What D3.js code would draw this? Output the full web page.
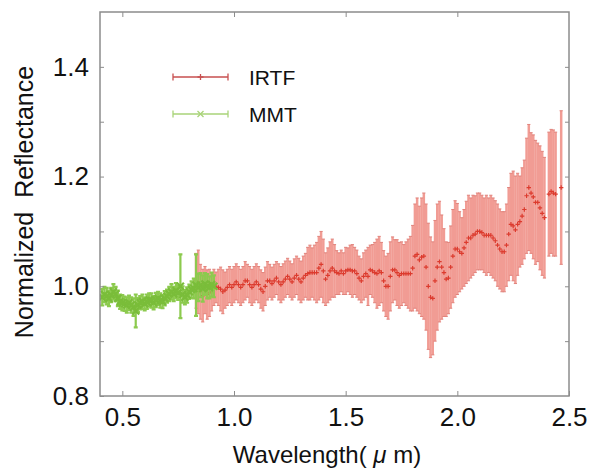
<!DOCTYPE html>
<html>
<head>
<meta charset="utf-8">
<script src="https://cdn.jsdelivr.net/npm/d3@7"></script>
<style>
  body { margin: 0; background: #fff; }
</style>
</head>
<body>
<div id="chart"></div>
<script>
// MMT (visible) spectrum
const mmtWavelength = [
  0.41, 0.42, 0.43, 0.44, 0.45, 0.46, 0.47, 0.48, 0.49, 0.50,
  0.51, 0.52, 0.53, 0.54, 0.55, 0.56, 0.57, 0.58, 0.59, 0.60,
  0.61, 0.62, 0.63, 0.64, 0.65, 0.66, 0.67, 0.68, 0.69, 0.70,
  0.71, 0.72, 0.73, 0.74, 0.75, 0.76, 0.77, 0.78, 0.79, 0.80,
  0.81, 0.82, 0.83, 0.84, 0.85, 0.86, 0.87, 0.88, 0.89, 0.90, 0.91
];
const mmtReflectance = [
  0.980, 0.985, 0.982, 0.978, 0.984, 0.990, 0.986, 0.978, 0.972, 0.970,
  0.968, 0.966, 0.970, 0.966, 0.962, 0.955, 0.966, 0.970, 0.972, 0.968,
  0.972, 0.975, 0.974, 0.970, 0.975, 0.978, 0.974, 0.972, 0.978, 0.982,
  0.986, 0.990, 0.986, 0.992, 0.988, 1.000, 0.985, 0.980, 0.984, 0.990,
  0.994, 0.996, 1.002, 0.998, 1.002, 0.996, 1.004, 1.000, 0.998, 1.003, 1.000
];
const mmtError = [
  0.015, 0.014, 0.015, 0.014, 0.013, 0.014, 0.013, 0.014, 0.013, 0.014,
  0.013, 0.014, 0.013, 0.014, 0.016, 0.030, 0.013, 0.012, 0.013, 0.012,
  0.013, 0.012, 0.013, 0.012, 0.013, 0.012, 0.013, 0.012, 0.013, 0.012,
  0.013, 0.014, 0.013, 0.014, 0.013, 0.058, 0.015, 0.013, 0.014, 0.013,
  0.015, 0.018, 0.056, 0.025, 0.022, 0.024, 0.020, 0.022, 0.020, 0.022, 0.020
];

// IRTF (near-infrared) spectrum
const irtfWavelength = [
  0.83, 0.84, 0.85, 0.86, 0.87, 0.88, 0.89, 0.90, 0.91, 0.92,
  0.93, 0.94, 0.95, 0.96, 0.97, 0.98, 0.99, 1.00, 1.01, 1.02,
  1.03, 1.04, 1.05, 1.06, 1.07, 1.08, 1.09, 1.10, 1.11, 1.12,
  1.13, 1.14, 1.15, 1.16, 1.17, 1.18, 1.19, 1.20, 1.21, 1.22,
  1.23, 1.24, 1.25, 1.26, 1.27, 1.28, 1.29, 1.30, 1.31, 1.32,
  1.33, 1.34, 1.35, 1.36, 1.37, 1.38, 1.39, 1.40, 1.41, 1.42,
  1.43, 1.44, 1.45, 1.46, 1.47, 1.48, 1.49, 1.50, 1.51, 1.52,
  1.53, 1.54, 1.55, 1.56, 1.57, 1.58, 1.59, 1.60, 1.61, 1.62,
  1.63, 1.64, 1.65, 1.66, 1.67, 1.68, 1.69, 1.70, 1.71, 1.72,
  1.73, 1.74, 1.75, 1.76, 1.77, 1.78, 1.79, 1.80, 1.81, 1.82,
  1.83, 1.84, 1.85, 1.86, 1.87, 1.88, 1.89, 1.90, 1.91, 1.92,
  1.93, 1.94, 1.95, 1.96, 1.97, 1.98, 1.99, 2.00, 2.01, 2.02,
  2.03, 2.04, 2.05, 2.06, 2.07, 2.08, 2.09, 2.10, 2.11, 2.12,
  2.13, 2.14, 2.15, 2.16, 2.17, 2.18, 2.19, 2.20, 2.21, 2.22,
  2.23, 2.24, 2.25, 2.26, 2.27, 2.28, 2.29, 2.30, 2.31, 2.32,
  2.33, 2.34, 2.35, 2.36, 2.37, 2.38, 2.39, 2.41, 2.42, 2.43,
  2.44, 2.465
];
const irtfReflectance = [
  1.010, 1.008, 0.990, 0.983, 0.993, 0.985, 0.988, 0.990, 0.998, 0.998,
  0.998, 0.995, 0.990, 0.993, 0.998, 1.003, 0.998, 1.003, 1.008, 1.003,
  0.998, 1.003, 1.010, 1.010, 1.003, 0.998, 1.003, 1.008, 1.003, 0.995,
  0.990, 1.000, 1.010, 1.010, 1.005, 1.010, 1.015, 1.008, 1.003, 1.008,
  1.013, 1.018, 1.013, 1.008, 1.015, 1.020, 1.013, 1.008, 1.015, 1.020,
  1.023, 1.025, 1.025, 1.025, 1.025, 1.033, 1.040, 1.028, 1.013, 1.020,
  1.028, 1.033, 1.028, 1.025, 1.023, 1.028, 1.023, 1.028, 1.030, 1.030,
  1.028, 1.028, 1.023, 1.015, 1.010, 1.018, 1.023, 1.018, 1.030, 1.028,
  1.025, 1.023, 1.028, 1.025, 1.010, 1.000, 1.000, 1.018, 1.030, 1.030,
  1.025, 1.020, 1.023, 1.023, 1.023, 1.023, 1.023, 1.033, 1.055, 1.058,
  1.048, 1.053, 1.055, 1.035, 1.000, 0.980, 0.978, 1.010, 1.035, 1.045,
  1.035, 1.025, 1.013, 1.015, 1.035, 1.055, 1.068, 1.068, 1.063, 1.060,
  1.070, 1.080, 1.088, 1.088, 1.093, 1.095, 1.100, 1.100, 1.098, 1.093,
  1.093, 1.093, 1.093, 1.088, 1.083, 1.075, 1.068, 1.063, 1.063, 1.075,
  1.095, 1.113, 1.110, 1.103, 1.113, 1.118, 1.128, 1.140, 1.165, 1.180,
  1.170, 1.163, 1.153, 1.153, 1.143, 1.133, 1.125, 1.168, 1.173, 1.170,
  1.168, 1.180
];
const irtfError = [
  0.050, 0.058, 0.050, 0.048, 0.043, 0.045, 0.043, 0.035, 0.033, 0.028,
  0.033, 0.040, 0.040, 0.033, 0.033, 0.033, 0.033, 0.033, 0.033, 0.033,
  0.033, 0.033, 0.035, 0.030, 0.033, 0.033, 0.033, 0.033, 0.033, 0.035,
  0.035, 0.035, 0.035, 0.030, 0.030, 0.030, 0.030, 0.033, 0.033, 0.033,
  0.033, 0.033, 0.033, 0.033, 0.035, 0.035, 0.038, 0.038, 0.040, 0.040,
  0.048, 0.050, 0.045, 0.050, 0.055, 0.058, 0.060, 0.058, 0.048, 0.050,
  0.053, 0.053, 0.048, 0.040, 0.038, 0.038, 0.038, 0.043, 0.040, 0.045,
  0.048, 0.043, 0.043, 0.040, 0.040, 0.043, 0.043, 0.053, 0.045, 0.048,
  0.055, 0.063, 0.063, 0.055, 0.055, 0.055, 0.060, 0.063, 0.060, 0.055,
  0.060, 0.060, 0.058, 0.053, 0.058, 0.063, 0.068, 0.078, 0.095, 0.103,
  0.098, 0.108, 0.115, 0.115, 0.115, 0.110, 0.103, 0.110, 0.115, 0.110,
  0.095, 0.080, 0.068, 0.065, 0.075, 0.085, 0.088, 0.083, 0.073, 0.065,
  0.070, 0.075, 0.078, 0.073, 0.073, 0.070, 0.070, 0.070, 0.068, 0.068,
  0.073, 0.068, 0.073, 0.073, 0.073, 0.075, 0.073, 0.073, 0.073, 0.075,
  0.085, 0.093, 0.100, 0.098, 0.093, 0.083, 0.088, 0.090, 0.105, 0.115,
  0.110, 0.113, 0.113, 0.108, 0.113, 0.113, 0.110, 0.113, 0.113, 0.115,
  0.113, 0.140
];

const xTicks = [0.5, 1.0, 1.5, 2.0, 2.5];
const yTicks = [0.8, 0.9, 1.0, 1.1, 1.2, 1.3, 1.4, 1.5];
const yLabelled = [0.8, 1.0, 1.2, 1.4];
const seriesNames = ["IRTF", "MMT"];

const width = 594, height = 473;
const margin = { top: 12, right: 25, bottom: 77, left: 100 };
const frameColor = "#8c8c8c";
const irtfBar = "#f19c94", irtfCap = "#e0837c", irtfDot = "#dc3b2e", irtfLegend = "#c85050";
const mmtBar = "#8cca4e", mmtDot = "#7abd3a", mmtLegend = "#a9d479";

const svg = d3.select("#chart").append("svg")
    .attr("width", width)
    .attr("height", height)
    .style("font-family", "'Liberation Sans', Arial, sans-serif");

const x = d3.scaleLinear().domain([0.4, 2.5]).range([margin.left, width - margin.right]);
const y = d3.scaleLinear().domain([0.8, 1.5]).range([height - margin.bottom, margin.top]);

svg.append("clipPath").attr("id", "plot")
  .append("rect")
    .attr("x", x(0.4)).attr("y", y(1.5))
    .attr("width", x(2.5) - x(0.4)).attr("height", y(0.8) - y(1.5));

const irtf = irtfWavelength.map((w, i) => ({ w, r: irtfReflectance[i], e: irtfError[i] }));
const mmt = mmtWavelength.map((w, i) => ({ w, r: mmtReflectance[i], e: mmtError[i] }));

const data = svg.append("g").attr("clip-path", "url(#plot)");

// IRTF error bars: dense vertical bars that read as a band
data.append("g")
    .attr("stroke", irtfBar)
    .attr("stroke-width", 2.5)
  .selectAll("line")
  .data(irtf)
  .join("line")
    .attr("x1", d => x(d.w)).attr("x2", d => x(d.w))
    .attr("y1", d => y(d.r - d.e)).attr("y2", d => y(d.r + d.e));

// caps
data.append("g")
    .attr("fill", "none")
    .attr("stroke", irtfCap)
    .attr("stroke-width", 1)
  .selectAll("path")
  .data(irtf)
  .join("path")
    .attr("d", d => {
        const px = x(d.w), y0 = y(d.r - d.e), y1 = y(d.r + d.e);
        return `M${px - 1.6},${y1}H${px + 1.6}M${px - 1.6},${y0}H${px + 1.6}`;
    });

data.append("g")
    .attr("fill", "none")
    .attr("stroke", irtfDot)
    .attr("stroke-width", 1.2)
  .selectAll("path")
  .data(irtf)
  .join("path")
    .attr("transform", d => `translate(${x(d.w)},${y(d.r)})`)
    .attr("d", "M-2.2,0H2.2M0,-2.2V2.2");

// MMT on top
data.append("g")
    .attr("fill", "none")
    .attr("stroke", mmtBar)
    .attr("stroke-width", 2.2)
  .selectAll("path")
  .data(mmt)
  .join("path")
    .attr("d", d => {
        const px = x(d.w), y0 = y(d.r - d.e), y1 = y(d.r + d.e);
        return `M${px},${y0}V${y1}M${px - 2},${y1}H${px + 2}M${px - 2},${y0}H${px + 2}`;
    });

data.append("g")
    .attr("fill", "none")
    .attr("stroke", mmtDot)
    .attr("stroke-width", 2.2)
  .selectAll("path")
  .data(mmt)
  .join("path")
    .attr("transform", d => `translate(${x(d.w)},${y(d.r)})`)
    .attr("d", "M-3.5,-3.5L3.5,3.5M-3.5,3.5L3.5,-3.5");

// frame and ticks
const fmt = d3.format(".1f");
function styleAxis(g) {
    g.select(".domain").remove();
    g.selectAll(".tick line").attr("stroke", frameColor).attr("stroke-width", 1);
    g.selectAll(".tick text").attr("fill", "#111").attr("font-size", 26)
        .attr("font-family", "'Liberation Sans', Arial, sans-serif");
}

svg.append("g")
    .attr("transform", `translate(0,${y(0.8)})`)
    .call(d3.axisBottom(x).tickValues(xTicks).tickFormat(fmt).tickSize(-5).tickPadding(12))
    .call(styleAxis);

svg.append("g")
    .attr("transform", `translate(0,${y(1.5)})`)
    .call(d3.axisTop(x).tickValues(xTicks.slice(0, -1)).tickFormat("").tickSize(-5))
    .call(styleAxis);

svg.append("g")
    .attr("transform", `translate(${x(0.4)},0)`)
    .call(d3.axisLeft(y).tickValues(yTicks.slice(0, -1))
        .tickFormat(d => yLabelled.some(v => Math.abs(v - d) < 1e-9) ? fmt(d) : "")
        .tickSize(-4).tickPadding(11))
    .call(styleAxis);

svg.append("g")
    .attr("transform", `translate(${x(2.5)},0)`)
    .call(d3.axisRight(y).tickValues(yTicks.slice(1, -1)).tickFormat("").tickSize(-4))
    .call(styleAxis);

svg.append("rect")
    .attr("x", x(0.4)).attr("y", y(1.5))
    .attr("width", x(2.5) - x(0.4)).attr("height", y(0.8) - y(1.5))
    .attr("fill", "none")
    .attr("stroke", frameColor)
    .attr("stroke-width", 1.5);

// axis titles
svg.append("text")
    .attr("transform", `translate(33,${(y(0.8) + y(1.5)) / 2 - 2}) rotate(-90)`)
    .attr("text-anchor", "middle")
    .attr("font-size", 25)
    .attr("fill", "#111")
    .attr("xml:space", "preserve")
    .text("Normalized  Reflectance");

svg.append("text")
    .attr("x", 327)
    .attr("y", 463)
    .attr("text-anchor", "middle")
    .attr("font-size", 24)
    .attr("fill", "#111")
    .call(t => {
        t.append("tspan").text("Wavelength( ");
        t.append("tspan").attr("font-style", "italic").text("μ");
        t.append("tspan").text(" m)");
    });

// legend
const legend = svg.append("g").attr("transform", "translate(173,77)");
const legendRows = [
    { name: seriesNames[0], line: irtfLegend, marker: "M-3,0H3M0,-3V3" },
    { name: seriesNames[1], line: mmtLegend, marker: "M-3,-3L3,3M-3,3L3,-3" }
];
legendRows.forEach((row, i) => {
    const g = legend.append("g").attr("transform", `translate(0,${i * 37})`);
    g.append("path")
        .attr("d", "M0,0H55M0,-3.5V3.5M55,-3.5V3.5")
        .attr("fill", "none")
        .attr("stroke", row.line)
        .attr("stroke-width", 1.3);
    g.append("path")
        .attr("transform", "translate(27.5,0)")
        .attr("d", row.marker)
        .attr("fill", "none")
        .attr("stroke", row.line)
        .attr("stroke-width", 1.3);
    g.append("text")
        .attr("x", 76)
        .attr("dy", "0.36em")
        .attr("font-size", 21)
        .attr("fill", "#111")
        .text(row.name);
});
</script>
</body>
</html>
